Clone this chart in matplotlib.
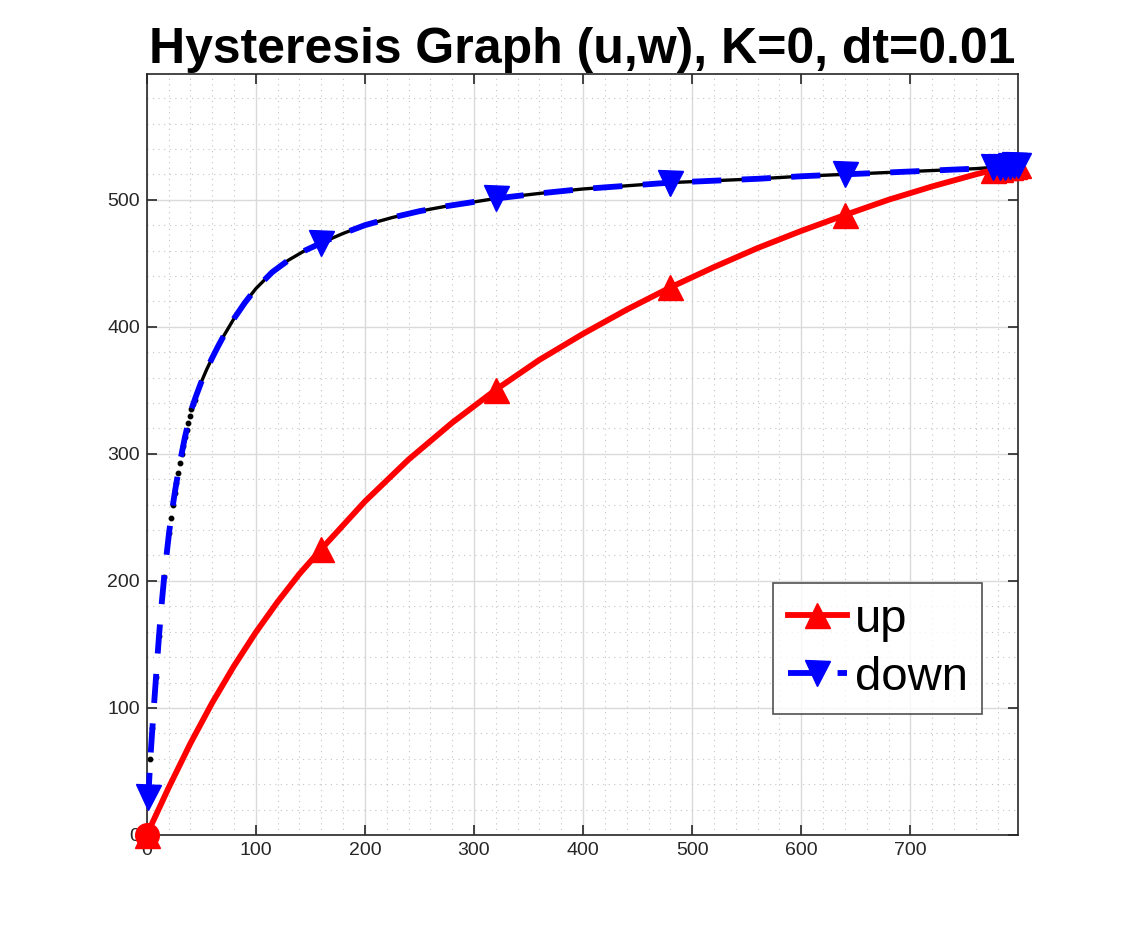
import numpy as np
import matplotlib.pyplot as plt
from matplotlib.ticker import MultipleLocator

plt.rcParams['font.family'] = ['Liberation Sans', 'DejaVu Sans']

# up branch (u, w)
up_u = [0, 20, 40, 60, 80, 100, 120, 140, 160, 200, 240, 280, 320, 360, 400, 440,
        480, 520, 560, 600, 640, 680, 720, 760, 776, 782, 787, 791, 795, 799]
up_w = [0, 37, 72, 104, 133, 159.5, 183.5, 205.5, 225, 262.5, 295.5, 324.5, 350.5, 374, 394.5, 413.5,
        431, 447, 462, 475.5, 488, 500, 510.5, 520, 523.5, 524.5, 525.5, 526, 526.5, 527]
up_marks = [0, 8, 12, 16, 20, 24, 25, 26, 27, 28, 29]

# down branch (u, w)
down_u = [799, 795, 791, 787, 782, 776, 760, 720, 680, 640, 600, 560, 520, 480, 440,
          400, 360, 320, 300, 275, 250, 225, 200, 180, 160, 145, 130, 115, 100, 90, 80,
          70, 65, 60, 55, 50, 45, 41, 38, 35, 32, 29, 26, 23, 20.5, 18, 16, 13.5, 11.3,
          10, 8.5, 7, 5.2, 3.3, 1.5]
down_w = [527, 527, 526.5, 526, 526, 525.5, 524.5, 523, 521.5, 520, 518.5, 516.5, 515, 513.5, 511,
          508.5, 505, 501, 498.3, 495, 491, 486, 480, 473.5, 466, 460, 452.5, 443, 430, 419, 406.5,
          392, 384, 375.5, 366.5, 356.5, 345, 335, 324, 313, 300, 286, 271, 254, 238, 219, 203, 180, 157,
          142, 124, 106, 84, 60, 30]
down_marks = [0, 1, 2, 3, 4, 5, 9, 13, 17, 24, 54]

# raw samples near the origin (drawn as dots)
dots_u = [3.3, 5.2, 8.5, 11.3, 16.0, 20.5, 22.3, 24.0, 25.6, 27.2, 28.8, 30.4, 32.0,
          33.5, 35.0, 36.6, 38.0, 39.5, 41.0, 42.5, 44.0]
dots_w = [60, 84, 124, 157, 203, 238, 249.5, 259.5, 269, 277, 285, 292.5, 300,
          306.5, 313, 319, 324, 329.5, 335, 339, 342.5]

fig = plt.figure(figsize=(11.26, 9.39), dpi=100)
ax = fig.add_axes([0.1303, 0.1108, 0.7741, 0.8104])

# black trace of the down samples
du = np.array(down_u)
dw = np.array(down_w)
sel = du >= 41
ax.plot(du[sel], dw[sel], color='k', lw=2.4, zorder=2)
ax.plot(dots_u, dots_w, 'o', color='k', ms=3.2, zorder=2)

ax.plot(up_u, up_w, '-^', color='red', lw=4.2, ms=18, markevery=up_marks,
        label='up', zorder=3, clip_on=False)
ax.plot(down_u, down_w, '--v', color='blue', lw=4.2, ms=18, markevery=down_marks,
        dashes=(5, 3.5), label='down', zorder=4, clip_on=False)
ax.plot(up_u[0], up_w[0], 'o', color='red', ms=17, zorder=5, clip_on=False)

ax.set_xlim(0, 799)
ax.set_ylim(0, 599)
ax.xaxis.set_major_locator(MultipleLocator(100))
ax.yaxis.set_major_locator(MultipleLocator(100))
ax.xaxis.set_minor_locator(MultipleLocator(20))
ax.yaxis.set_minor_locator(MultipleLocator(20))
ax.grid(True, which='major', color='#dadada', lw=1.0, ls='-')
ax.grid(True, which='minor', color='#c4c4c4', lw=0.8, ls=(0, (1, 4)))
ax.set_axisbelow(True)
ax.tick_params(which='major', direction='in', length=7, width=1.2, top=True, right=True,
               labelsize=14, colors='#262626', pad=5)
ax.tick_params(which='minor', length=0, top=True, right=True)
for s in ax.spines.values():
    s.set_color('#262626')
    s.set_linewidth(1.2)

ax.set_title('Hysteresis Graph (u,w), K=0, dt=0.01', fontsize=36, fontweight='bold', pad=8)

leg = ax.legend(loc='lower right', bbox_to_anchor=(0.958, 0.159), fontsize=34,
                frameon=True, fancybox=False, edgecolor='#262626', handlelength=1.25,
                handletextpad=0.17, borderpad=0.3, labelspacing=0.3, borderaxespad=0)
leg.get_frame().set_linewidth(1.2)

fig.savefig('out.png', dpi=100)
